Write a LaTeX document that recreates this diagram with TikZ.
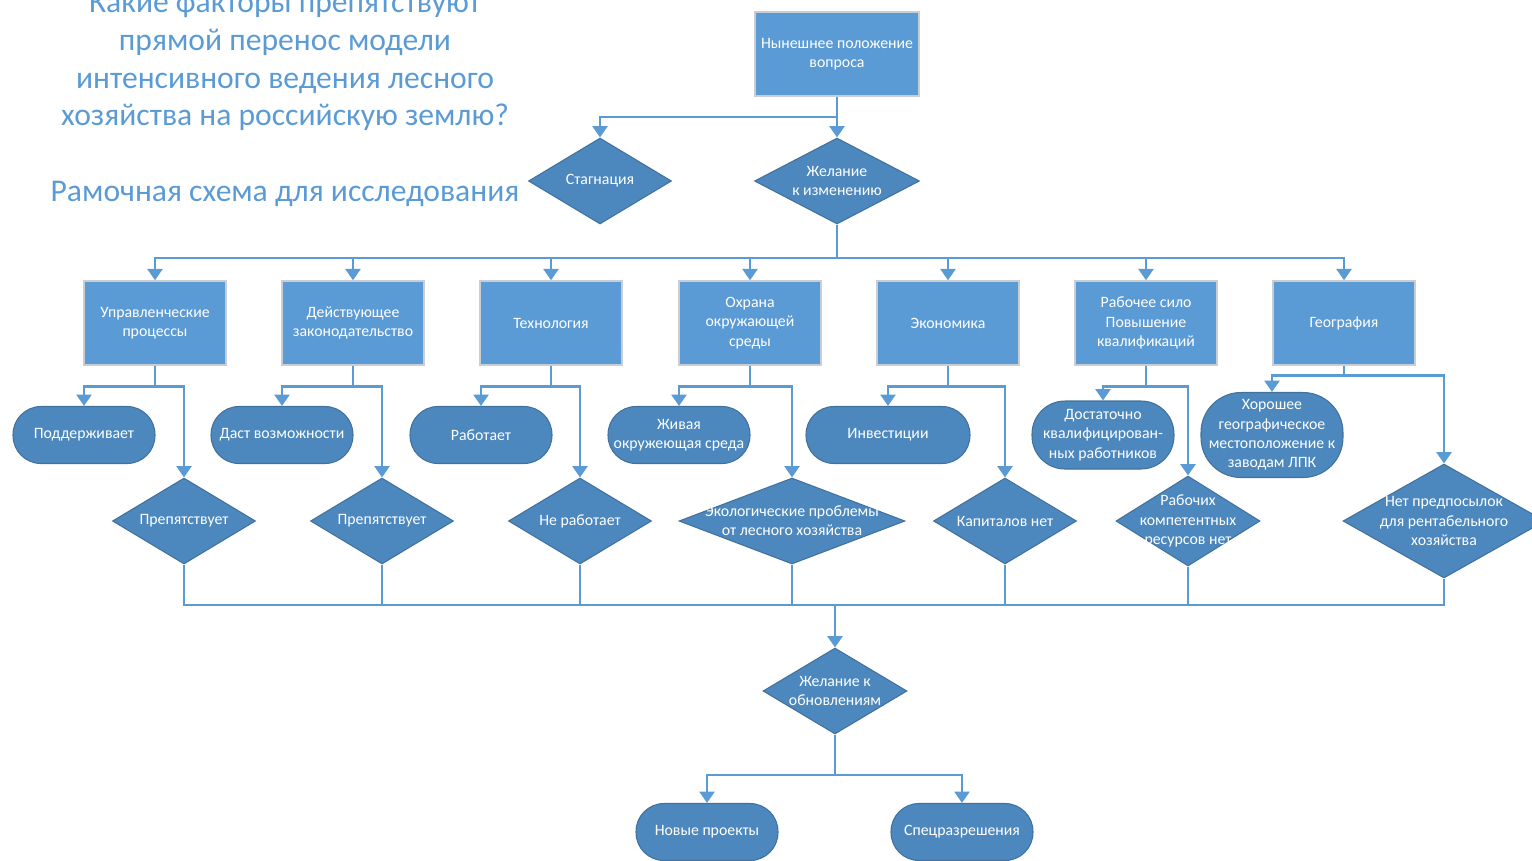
\documentclass[tikz,border=0pt]{standalone}
\usepackage{fontspec}
\setmainfont{Carlito}
\usepackage{tikz}
\usetikzlibrary{arrows.meta,shapes.geometric}
\definecolor{boxblue}{HTML}{5B9BD5}
\definecolor{shapeblue}{HTML}{4C88BE}
\definecolor{shapeedge}{HTML}{41719C}
\definecolor{boxedge}{HTML}{C9CED4}
\def\nodefont{\fontsize{9}{11}\selectfont}
\tikzset{
	box/.style={rectangle, fill=boxblue, draw=boxedge, line width=0.8pt, minimum width=2.84cm, minimum height=1.68cm, text=white, align=center, font=\nodefont, inner sep=1pt},
	pill/.style={rectangle, rounded corners=#1, fill=shapeblue, draw=shapeedge, line width=0.6pt, minimum width=2.84cm, minimum height=1.14cm, text=white, align=center, font=\nodefont, inner sep=1pt},
	pill/.default=0.56cm,
	dtext/.style={text=white, align=center, font=\nodefont},
	dia/.style={diamond, fill=shapeblue, draw=shapeedge, line width=0.6pt, inner sep=0pt, label={[dtext]center:{#1}}},
	conn/.style={draw=boxblue, line width=1.6pt, -{Triangle[width=8.5pt,length=6.5pt]}},
	link/.style={draw=boxblue, line width=1.6pt},
	heading/.style={text=boxblue, align=center, font=\fontsize{18}{21.5}\selectfont}
}

\begin{document}
\begin{tikzpicture}[x=0.02cm, y=-0.02cm]
			%%%%% START %%%%%
			\useasboundingbox (0,0) rectangle (1532,860);
			\clip (0,0) rectangle (1532,860);
			
			\node[heading] (title) at (285,61) {Какие факторы препятствуют\\прямой перенос модели\\интенсивного ведения лесного\\хозяйства на российскую землю?};
			\node[heading] (frame) at (285,194) {Рамочная схема для исследования};
			
			\node[box, minimum width=3.28cm] (top) at (837,54) {Нынешнее положение\\вопроса};
			\node[dia={Стагнация}, minimum width=2.86cm, minimum height=1.72cm] (stag) at (600,181) {};
			\node[dia={Желание\\к изменению}, minimum width=3.3cm, minimum height=1.72cm] (wish) at (837,181) {};
			\coordinate (j1) at (837,117);
			\coordinate (j2) at (837,258);
			
			\draw[conn] (top.south) -- (j1) -| (stag.north);
			\draw[conn] (top.south) -- (wish.north);
			
			\node[box] (b1) at (155,323) {Управленческие\\процессы};
			\node[box] (b2) at (353,323) {Действующее\\законодательство};
			\node[box] (b3) at (551,323) {Технология};
			\node[box] (b4) at (750,323) {Охрана\\окружающей\\среды};
			\node[box] (b5) at (948,323) {Экономика};
			\node[box] (b6) at (1146,323) {Рабочее сило\\Повышение\\квалификаций};
			\node[box] (b7) at (1344,323) {География};
			
			\draw[conn] (wish.south) -- (j2) -| (b1.north);
			\draw[conn] (wish.south) -- (j2) -| (b2.north);
			\draw[conn] (wish.south) -- (j2) -| (b3.north);
			\draw[conn] (wish.south) -- (j2) -| (b4.north);
			\draw[conn] (wish.south) -- (j2) -| (b5.north);
			\draw[conn] (wish.south) -- (j2) -| (b6.north);
			\draw[conn] (wish.south) -- (j2) -| (b7.north);
			
			\node[pill] (p1) at (84,435) {Поддерживает};
			\node[pill] (p2) at (282,435) {Даст возможности};
			\node[pill] (p3) at (481,435) {Работает};
			\node[pill] (p4) at (679,435) {Живая\\окружеющая среда};
			\node[pill, minimum width=3.28cm] (p5) at (888,435) {Инвестиции};
			\node[pill=0.66cm, minimum height=1.36cm] (p6) at (1103,435) {Достаточно\\квалифицирован-\\ных работников};
			\node[pill=0.8cm, minimum height=1.7cm] (p7) at (1272,435) {Хорошее\\географическое\\местоположение к\\заводам ЛПК};
			
			\node[dia={Препятствует}, minimum width=2.86cm, minimum height=1.72cm] (d1) at (184,521) {};
			\node[dia={Препятствует}, minimum width=2.86cm, minimum height=1.72cm] (d2) at (382,521) {};
			\node[dia={Не работает}, minimum width=2.86cm, minimum height=1.72cm] (d3) at (580,521) {};
			\node[dia={Экологические проблемы\\от лесного хозяйства}, minimum width=4.52cm, minimum height=1.72cm] (d4) at (792,521) {};
			\node[dia={Капиталов нет}, minimum width=2.86cm, minimum height=1.72cm] (d5) at (1005,521) {};
			\node[dia={Рабочих\\компетентных\\ресурсов нет}, minimum width=2.88cm, minimum height=1.8cm] (d6) at (1188,521) {};
			\node[dia={Нет предпосылок\\для рентабельного\\хозяйства}, minimum width=4.04cm, minimum height=2.28cm] (d7) at (1444,521) {};
			
			\draw[conn] (b1.south) -- ++(0,21) -| (p1.north);
			\draw[conn] (b1.south) -- ++(0,21) -| (d1.north);
			\draw[conn] (b2.south) -- ++(0,21) -| (p2.north);
			\draw[conn] (b2.south) -- ++(0,21) -| (d2.north);
			\draw[conn] (b3.south) -- ++(0,21) -| (p3.north);
			\draw[conn] (b3.south) -- ++(0,21) -| (d3.north);
			\draw[conn] (b4.south) -- ++(0,21) -| (p4.north);
			\draw[conn] (b4.south) -- ++(0,21) -| (d4.north);
			\draw[conn] (b5.south) -- ++(0,21) -| (p5.north);
			\draw[conn] (b5.south) -- ++(0,21) -| (d5.north);
			\draw[conn] (b6.south) -- ++(0,21) -| (p6.north);
			\draw[conn] (b6.south) -- ++(0,21) -| (d6.north);
			\draw[conn] (b7.south) -- ++(0,10) -| (p7.north);
			\draw[conn] (b7.south) -- ++(0,10) -| (d7.north);
			
			\coordinate (j3) at (835,605);
			\draw[link] (d1.south) |- (j3);
			\draw[link] (d2.south) |- (j3);
			\draw[link] (d3.south) |- (j3);
			\draw[link] (d4.south) |- (j3);
			\draw[link] (d5.south) |- (j3);
			\draw[link] (d6.south) |- (j3);
			\draw[link] (d7.south) |- (j3);
			
			\node[dia={Желание к\\обновлениям}, minimum width=2.88cm, minimum height=1.72cm] (renew) at (835,691) {};
			\draw[conn] (j3) -- (renew.north);
			
			\node[pill] (n1) at (707,832) {Новые проекты};
			\node[pill] (n2) at (962,832) {Спецразрешения};
			\coordinate (j4) at (835,775);
			\draw[conn] (renew.south) -- (j4) -| (n1.north);
			\draw[conn] (renew.south) -- (j4) -| (n2.north);
			
			%%%%% END %%%%%
		\end{tikzpicture}
\end{document}
